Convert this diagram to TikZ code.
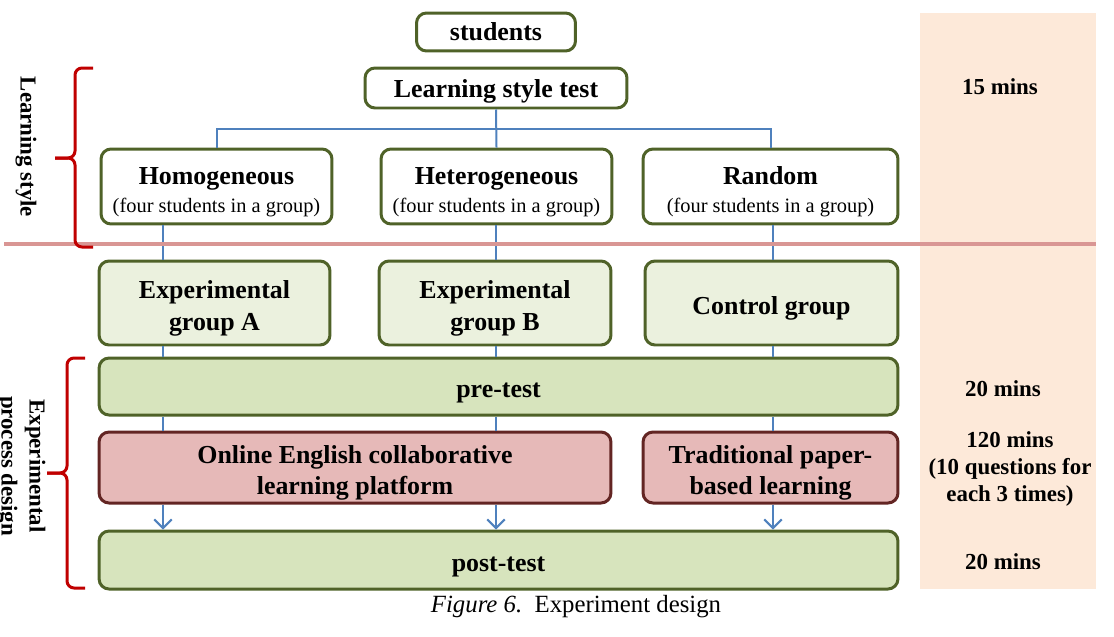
\documentclass[tikz,border=0pt]{standalone}
\usepackage{fontspec}
\setmainfont{Liberation Serif}
\usetikzlibrary{arrows.meta}

\definecolor{boxgreen}{HTML}{4F6228}
\definecolor{lightgreen}{HTML}{EBF1DE}
\definecolor{midgreen}{HTML}{D7E4BD}
\definecolor{rosefill}{HTML}{E6B9B8}
\definecolor{roseborder}{HTML}{632523}
\definecolor{linkblue}{HTML}{4F81BD}
\definecolor{dividerred}{HTML}{D99694}
\definecolor{bracered}{HTML}{C00000}
\definecolor{peach}{HTML}{FDE9D9}

\tikzset{
  stagebox/.style={draw=boxgreen, line width=0.06cm, rounded corners=0.2cm, fill=white,
    inner sep=0pt, align=center, font=\fontsize{14.74}{18}\selectfont\bfseries},
  choicebox/.style={stagebox, font=\fontsize{14.74}{15.9}\selectfont\bfseries},
  groupbox/.style={stagebox, fill=lightgreen},
  testbox/.style={stagebox, fill=midgreen},
  learnbox/.style={stagebox, draw=roseborder, fill=rosefill, font=\fontsize{14.74}{17.5}\selectfont\bfseries},
  link/.style={draw=linkblue, line width=0.04cm},
  arrowlink/.style={link, -{Straight Barb[length=5pt,width=10pt,line width=0.04cm]}},
  timelabel/.style={align=center, inner sep=0pt, font=\fontsize{13.04}{15.3}\selectfont\bfseries},
  sidelabel/.style={align=center, inner sep=0pt, rotate=-90, font=\fontsize{13}{15.9}\selectfont\bfseries},
  bracestroke/.style={draw=bracered, line width=0.06cm, rounded corners=0.14cm},
}
\newcommand{\subline}[1]{{\fontsize{11.62}{15.9}\selectfont\mdseries #1}}
\newcommand{\boxstrut}{\rule{0pt}{16pt}}

\begin{document}
\begin{tikzpicture}[x=0.02cm, y=-0.02cm]
                \useasboundingbox (0,0) rectangle (1114,636);

                % Drawing time column
                \fill [peach] (920,13) rectangle (1096,589);%
                \node [timelabel] (t1) at (1000,87) {15 mins};%
                \node [timelabel] (t2) at (1003,389) {20 mins};%
                \node [timelabel] (t3) at (1010,469) {120 mins\\(10 questions for\\each 3 times)};%
                \node [timelabel] (t4) at (1003,562) {20 mins};%

                % Drawing boxes of the learning style part
                \node [stagebox, minimum width=3.18cm, minimum height=0.76cm] (students) at (496,32) {students};%
                \node [stagebox, minimum width=5.24cm, minimum height=0.80cm] (lst) at (496,88) {\rule{0pt}{14pt}Learning style test};%
                \node [choicebox, minimum width=4.62cm, minimum height=1.50cm] (homo) at (216.5,186.5) {\boxstrut Homogeneous\\\subline{(four students in a group)}};%
                \node [choicebox, minimum width=4.62cm, minimum height=1.50cm] (hetero) at (496.5,186.5) {\boxstrut Heterogeneous\\\subline{(four students in a group)}};%
                \node [choicebox, minimum width=5.10cm, minimum height=1.50cm] (random) at (770.5,186.5) {\boxstrut Random\\\subline{(four students in a group)}};%

                % Drawing boxes of the experimental part
                \node [groupbox, minimum width=4.62cm, minimum height=1.68cm] (expA) at (214.5,303) {\boxstrut Experimental\\group A};%
                \node [groupbox, minimum width=4.64cm, minimum height=1.68cm] (expB) at (495,303) {\boxstrut Experimental\\group B};%
                \node [groupbox, minimum width=5.06cm, minimum height=1.68cm] (ctrl) at (771.5,303) {\boxstrut Control group};%
                \node [testbox, minimum width=15.98cm, minimum height=1.14cm] (pre) at (498.5,386.5) {\boxstrut pre-test};%
                \node [learnbox, minimum width=10.24cm, minimum height=1.42cm] (online) at (355,467.5) {\boxstrut Online English collaborative\\learning platform};%
                \node [learnbox, minimum width=5.10cm, minimum height=1.42cm] (trad) at (770.5,467.5) {\boxstrut Traditional paper-\\based learning};%
                \node [testbox, minimum width=15.98cm, minimum height=1.16cm] (post) at (498.5,560) {\boxstrut post-test};%

                % Columns of the connectors
                \coordinate (colA) at (163,0);%
                \coordinate (colB) at (496,0);%
                \coordinate (colC) at (773,0);%
                \coordinate (split) at (496,129);%

                % Drawing tree from the test to the groupings
                \draw [link] (lst.south) -- (hetero.north);%
                \draw [link] (homo.north) |- (split) -| (random.north);%

                % Drawing segments in column A
                \draw [link] (homo.south -| colA) -- (expA.north -| colA);%
                \draw [link] (expA.south -| colA) -- (pre.north -| colA);%
                \draw [link] (pre.south -| colA) -- (online.north -| colA);%
                \draw [arrowlink] (online.south -| colA) -- (post.north -| colA);%

                % Drawing segments in column B
                \draw [link] (hetero.south -| colB) -- (expB.north -| colB);%
                \draw [link] (expB.south -| colB) -- (pre.north -| colB);%
                \draw [link] (pre.south -| colB) -- (online.north -| colB);%
                \draw [arrowlink] (online.south -| colB) -- (post.north -| colB);%

                % Drawing segments in column C
                \draw [link] (random.south -| colC) -- (ctrl.north -| colC);%
                \draw [link] (ctrl.south -| colC) -- (pre.north -| colC);%
                \draw [link] (pre.south -| colC) -- (trad.north -| colC);%
                \draw [arrowlink] (trad.south -| colC) -- (post.north -| colC);%

                % Drawing divider line
                \draw [dividerred, line width=0.08cm] (4,244) -- (1096,244);%

                % Drawing brace of learning style
                \draw [bracestroke] (93,68) -- (75,68) -- (75,158) -- (55,158);%
                \draw [bracestroke] (93,247) -- (75,247) -- (75,158) -- (55,158);%
                \node [sidelabel] (side1) at (26,147) {Learning style};%

                % Drawing brace of experimental process design
                \draw [bracestroke] (85,358) -- (67,358) -- (67,473) -- (47,473);%
                \draw [bracestroke] (85,588) -- (67,588) -- (67,473) -- (47,473);%
                \node [sidelabel] (side2) at (21,466) {Experimental\\process design};%

                % Drawing caption
                \node [inner sep=0pt, font=\fontsize{14.1}{17}\selectfont] (caption) at (576,607) {\textit{Figure 6.}\ \ Experiment design};%
\end{tikzpicture}
\end{document}
